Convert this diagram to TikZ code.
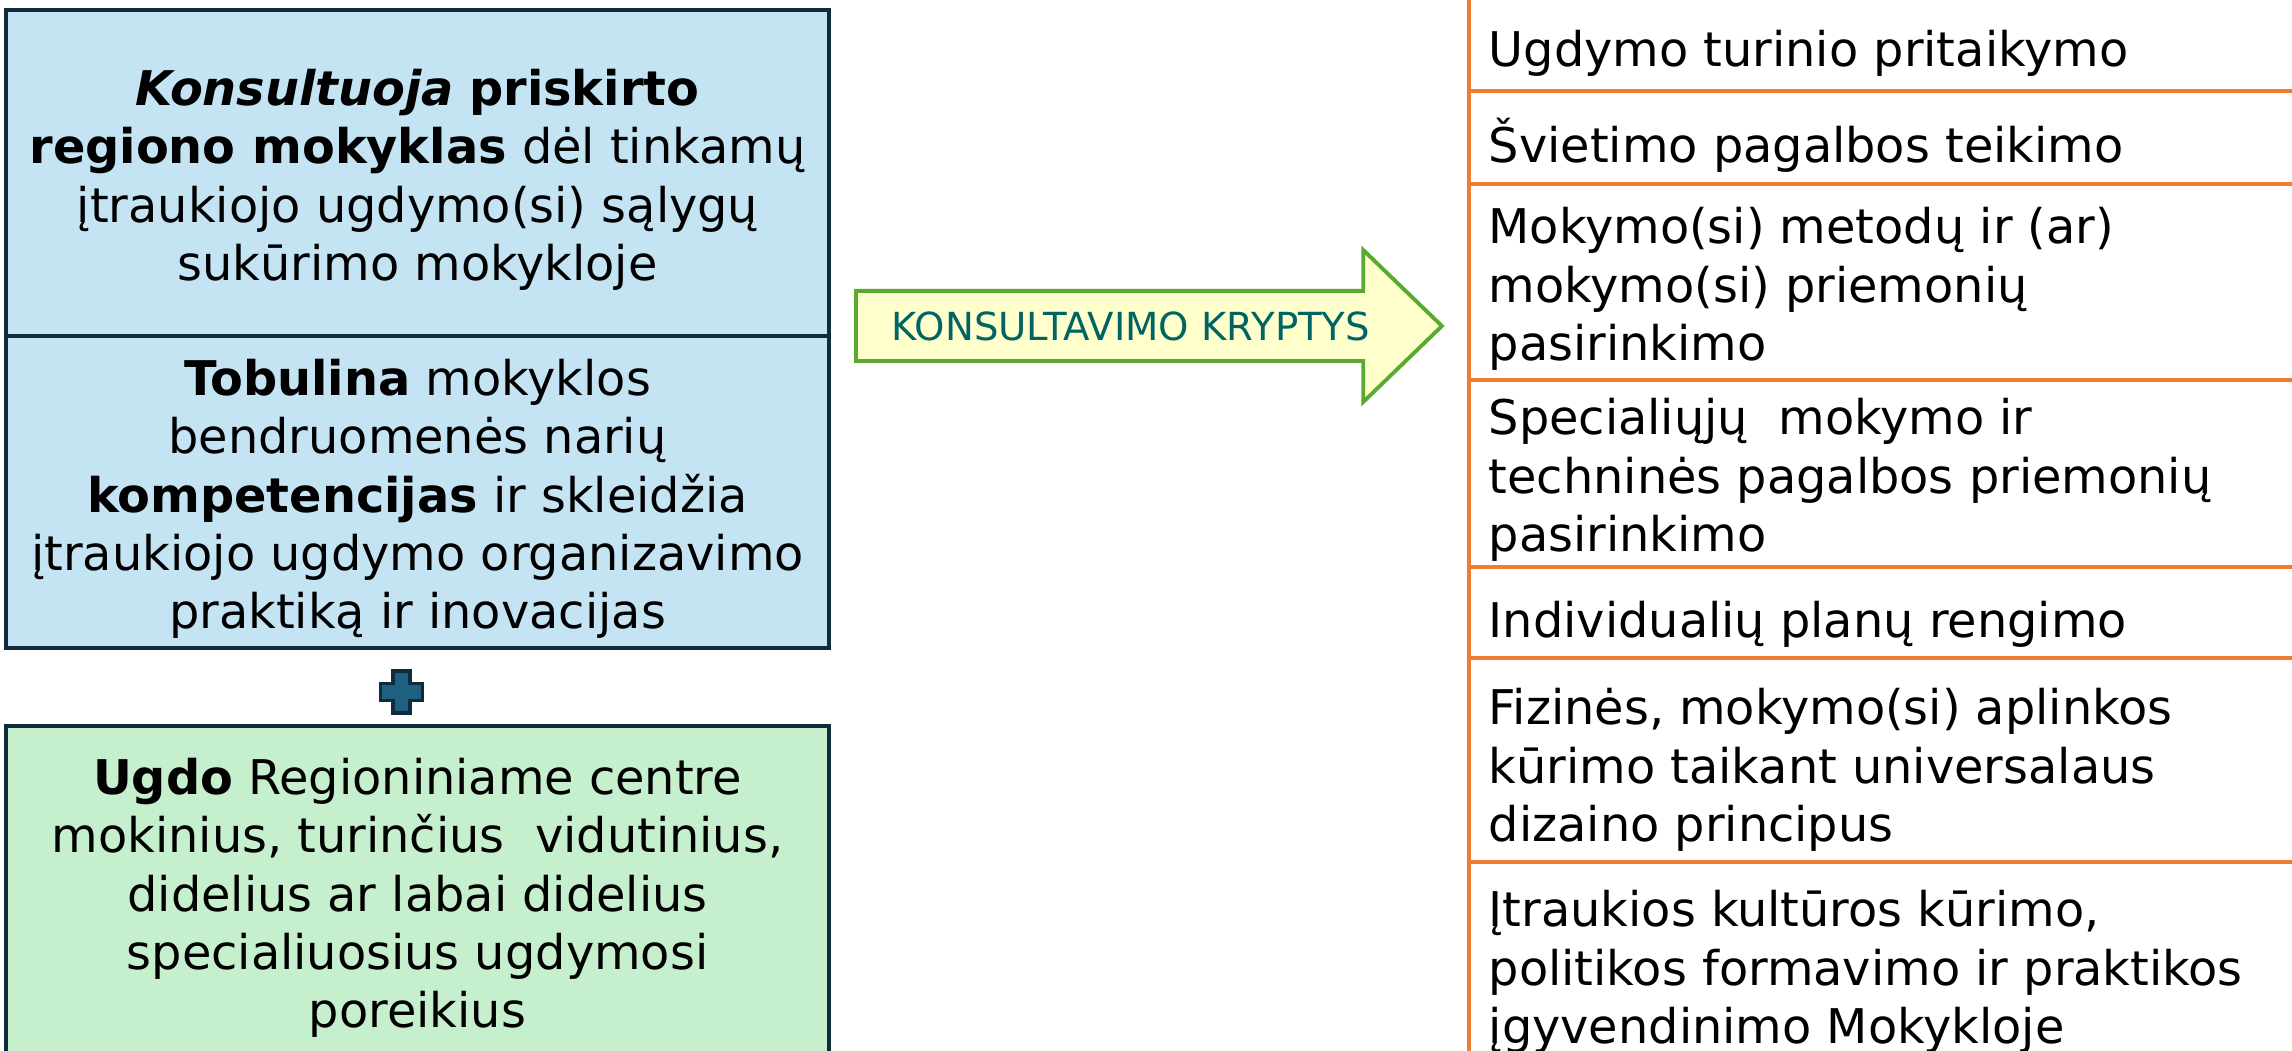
\documentclass[tikz,border=0pt]{standalone}
\usepackage{fontspec}
\setmainfont{DejaVu Sans}
\usetikzlibrary{shapes.arrows}

\definecolor{boxblue}{RGB}{196,228,243}
\definecolor{boxgreen}{RGB}{198,239,206}
\definecolor{boxline}{RGB}{16,43,59}
\definecolor{listorange}{RGB}{237,125,49}
\definecolor{arrowfill}{RGB}{255,255,204}
\definecolor{arrowline}{RGB}{90,170,50}
\definecolor{arrowtext}{RGB}{0,100,100}
\definecolor{plusfill}{RGB}{31,95,128}

\newcommand{\padtop}[1]{\rule{0pt}{#1}}

\tikzset{
  bigtext/.style={font=\fontsize{13.6pt}{16.6pt}\selectfont},
  leftbox/.style={bigtext,draw=boxline,line width=0.9pt,minimum width=82.3mm,align=center,inner sep=0pt},
  item/.style={bigtext,anchor=west,align=left,inner sep=0pt},
  sepline/.style={listorange,line width=0.9pt},
}

\begin{document}
\begin{tikzpicture}[x=0.1mm,y=-0.1mm]
  \useasboundingbox (0,0) rectangle (2292,1051);

  \node[leftbox,fill=boxblue,minimum height=32.6mm] (konsult) at (417.5,173)
    {\padtop{14.3pt}\textbf{\textit{Konsultuoja}} \textbf{priskirto}\\
     \textbf{regiono mokyklas} dėl tinkamų\\
     įtraukiojo ugdymo(si) sąlygų\\
     sukūrimo mokykloje};
  \node[leftbox,fill=boxblue,minimum height=31.2mm] (tobul) at (417.5,492)
    {\padtop{14.3pt}\textbf{Tobulina} mokyklos\\
     bendruomenės narių\\
     \textbf{kompetencijas} ir skleidžia\\
     įtraukiojo ugdymo organizavimo\\
     praktiką ir inovacijas};
  \node[leftbox,fill=boxgreen,minimum height=33.4mm] (ugdo) at (417.5,893)
    {\padtop{13.2pt}\textbf{Ugdo} Regioniniame centre\\
     mokinius, turinčius\ \ vidutinius,\\
     didelius ar labai didelius\\
     specialiuosius ugdymosi\\
     poreikius};

  % plus
  \coordinate (plus) at (401.5,692);
  \draw[boxline,fill=plusfill,line width=1.1pt,shift={(plus)}]
    (-8.5,-21) -- (8.5,-21) -- (8.5,-8.5) -- (21,-8.5) -- (21,8.5) -- (8.5,8.5)
    -- (8.5,21) -- (-8.5,21) -- (-8.5,8.5) -- (-21,8.5) -- (-21,-8.5) -- (-8.5,-8.5) -- cycle;

  \node[single arrow,draw=arrowline,fill=arrowfill,line width=1.1pt,
        minimum height=58.6mm,minimum width=15.2mm,single arrow head extend=3.8mm,
        single arrow tip angle=88,inner xsep=0pt,inner ysep=1.6mm,anchor=tail,
        text=arrowtext,font=\fontsize{11pt}{12pt}\selectfont] (kryptys) at (854,326)
    {KONSULTAVIMO KRYPTYS};

  \draw[sepline] (1469,-10) -- (1469,1070);
  \draw[sepline] (1469,91) -- (2300,91);
  \draw[sepline] (1469,184) -- (2300,184);
  \draw[sepline] (1469,380) -- (2300,380);
  \draw[sepline] (1469,567) -- (2300,567);
  \draw[sepline] (1469,658) -- (2300,658);
  \draw[sepline] (1469,862) -- (2300,862);

  \node[item] (turinys) at (1488,53) {Ugdymo turinio pritaikymo};
  \node[item] (pagalba) at (1488,145) {Švietimo pagalbos teikimo};
  \node[item] (metodai) at (1488,289) {Mokymo(si) metodų ir (ar)\\ mokymo(si) priemonių\\ pasirinkimo};
  \node[item] (technika) at (1488,480) {Specialiųjų\ \ mokymo ir\\ techninės pagalbos priemonių\\ pasirinkimo};
  \node[item] (planai) at (1488,624) {Individualių planų rengimo};
  \node[item] (aplinka) at (1488,770) {Fizinės, mokymo(si) aplinkos\\ kūrimo taikant universalaus\\ dizaino principus};
  \node[item] (kultura) at (1488,972) {Įtraukios kultūros kūrimo,\\ politikos formavimo ir praktikos\\ įgyvendinimo Mokykloje};
\end{tikzpicture}
\end{document}
